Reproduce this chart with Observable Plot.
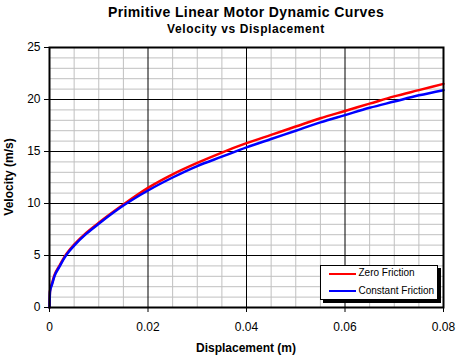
<!DOCTYPE html>
<html><head><meta charset="utf-8">
<script src="https://cdn.jsdelivr.net/npm/d3@7"></script>
<script src="https://cdn.jsdelivr.net/npm/@observablehq/plot@0.6"></script>
<style>
body{margin:0;background:#fff;font-family:Arial,"Liberation Sans",sans-serif;color:#000}
#wrap{position:relative;width:473px;height:357px;overflow:hidden;background:#fff}
#wrap svg{position:absolute;left:0;top:0}
.t{position:absolute;white-space:nowrap;text-align:center;font-weight:bold}
#legend{position:absolute;left:320px;top:265px;width:118px;height:35px;box-sizing:border-box;border:1px solid #000;background:#fff;box-shadow:3px 3px 0 #000}
#legend .ln{position:absolute;left:8px;width:27px;height:2.5px}
#legend .lt{position:absolute;left:37.5px;font-size:10px;line-height:10px;white-space:nowrap}
</style></head><body>
<div id="wrap"></div>
<script>
const displacement = [0, 0.0001, 0.0005, 0.001, 0.002, 0.003, 0.004, 0.005, 0.0075, 0.01, 0.015, 0.02, 0.025, 0.03, 0.035, 0.04, 0.045, 0.05, 0.055, 0.06, 0.065, 0.07, 0.075, 0.08];
const zeroFriction = [0, 1.6, 2.3, 3.1, 4.0, 4.85, 5.5, 6.05, 7.2, 8.15, 9.9, 11.5, 12.8, 13.9, 14.9, 15.8, 16.6, 17.4, 18.2, 18.9, 19.6, 20.3, 20.9, 21.5];
const constantFriction = [0, 1.5, 2.2, 3.0, 3.9, 4.75, 5.4, 5.95, 7.1, 8.05, 9.8, 11.25, 12.5, 13.6, 14.5, 15.4, 16.2, 17.0, 17.8, 18.5, 19.2, 19.8, 20.4, 20.9];
const seriesNames = ["Zero Friction", "Constant Friction"];
const seriesColors = ["#ff0000", "#0000ff"];
const xTickValues = [0, 0.02, 0.04, 0.06, 0.08];
const yTickValues = [0, 5, 10, 15, 20, 25];
const xMinorValues = [0.005, 0.01, 0.015, 0.025, 0.03, 0.035, 0.045, 0.05, 0.055, 0.065, 0.07, 0.075];
const yMinorValues = [1, 2, 3, 4, 6, 7, 8, 9, 11, 12, 13, 14, 16, 17, 18, 19, 21, 22, 23, 24];
const xMajorGrid = [0.02, 0.04, 0.06];
const yMajorGrid = [5, 10, 15, 20];

const seriesValues = [zeroFriction, constantFriction];
const rows = seriesNames.flatMap((name, s) => displacement.map((x, i) => ({x, v: seriesValues[s][i], series: name})));

const chart = Plot.plot({
  width: 473, height: 357,
  marginLeft: 49, marginRight: 30, marginTop: 47, marginBottom: 50,
  style: {fontFamily: "Arial, 'Liberation Sans', sans-serif", fontSize: "12px", color: "#000", background: "transparent"},
  x: {domain: [0, 0.08]},
  y: {domain: [0, 25]},
  color: {domain: seriesNames, range: seriesColors},
  marks: [
    Plot.ruleX(xMinorValues, {stroke: "#c0c0c0", strokeWidth: 1}),
    Plot.ruleY(yMinorValues, {stroke: "#c0c0c0", strokeWidth: 1}),
    Plot.ruleX(xMajorGrid, {stroke: "#000", strokeWidth: 1}),
    Plot.ruleY(yMajorGrid, {stroke: "#000", strokeWidth: 1}),
    Plot.line(rows, {x: "x", y: "v", z: "series", stroke: "series", strokeWidth: 2.5, curve: "monotone-x"}),
    Plot.frame({stroke: "#000", strokeWidth: 2}),
    Plot.axisX({ticks: xTickValues, tickSize: 5, tickPadding: 10, tickFormat: d => d === 0 ? "0" : d.toFixed(2), label: null}),
    Plot.axisY({ticks: yTickValues, tickSize: 5, tickPadding: 4, tickFormat: d => String(d), label: null})
  ]
});
const wrap = document.getElementById("wrap");
wrap.appendChild(chart);

function addText(txt, css) {
  const d = document.createElement("div");
  d.className = "t";
  d.textContent = txt;
  Object.assign(d.style, css);
  wrap.appendChild(d);
  return d;
}
addText("Primitive Linear Motor Dynamic Curves", {left: "49px", width: "394px", top: "5px", fontSize: "14px", lineHeight: "14px", letterSpacing: "0.4px"});
addText("Velocity vs Displacement", {left: "49px", width: "394px", top: "23px", fontSize: "12px", lineHeight: "12px", letterSpacing: "0.6px"});
addText("Displacement (m)", {left: "49px", width: "394px", top: "342px", fontSize: "12px", lineHeight: "12px"});
addText("Velocity (m/s)", {left: (9 - 100) + "px", width: "200px", top: (177 - 7) + "px", height: "14px", fontSize: "12px", lineHeight: "14px", transform: "rotate(-90deg)", transformOrigin: "50% 50%"});

const legend = document.createElement("div");
legend.id = "legend";
seriesNames.forEach((name, i) => {
  const ln = document.createElement("div");
  ln.className = "ln";
  ln.style.top = (6.5 + i * 17.3) + "px";
  ln.style.background = seriesColors[i];
  legend.appendChild(ln);
  const lt = document.createElement("div");
  lt.className = "lt";
  lt.style.top = (2.2 + i * 17.3) + "px";
  lt.textContent = name;
  legend.appendChild(lt);
});
wrap.appendChild(legend);
</script>
</body></html>
